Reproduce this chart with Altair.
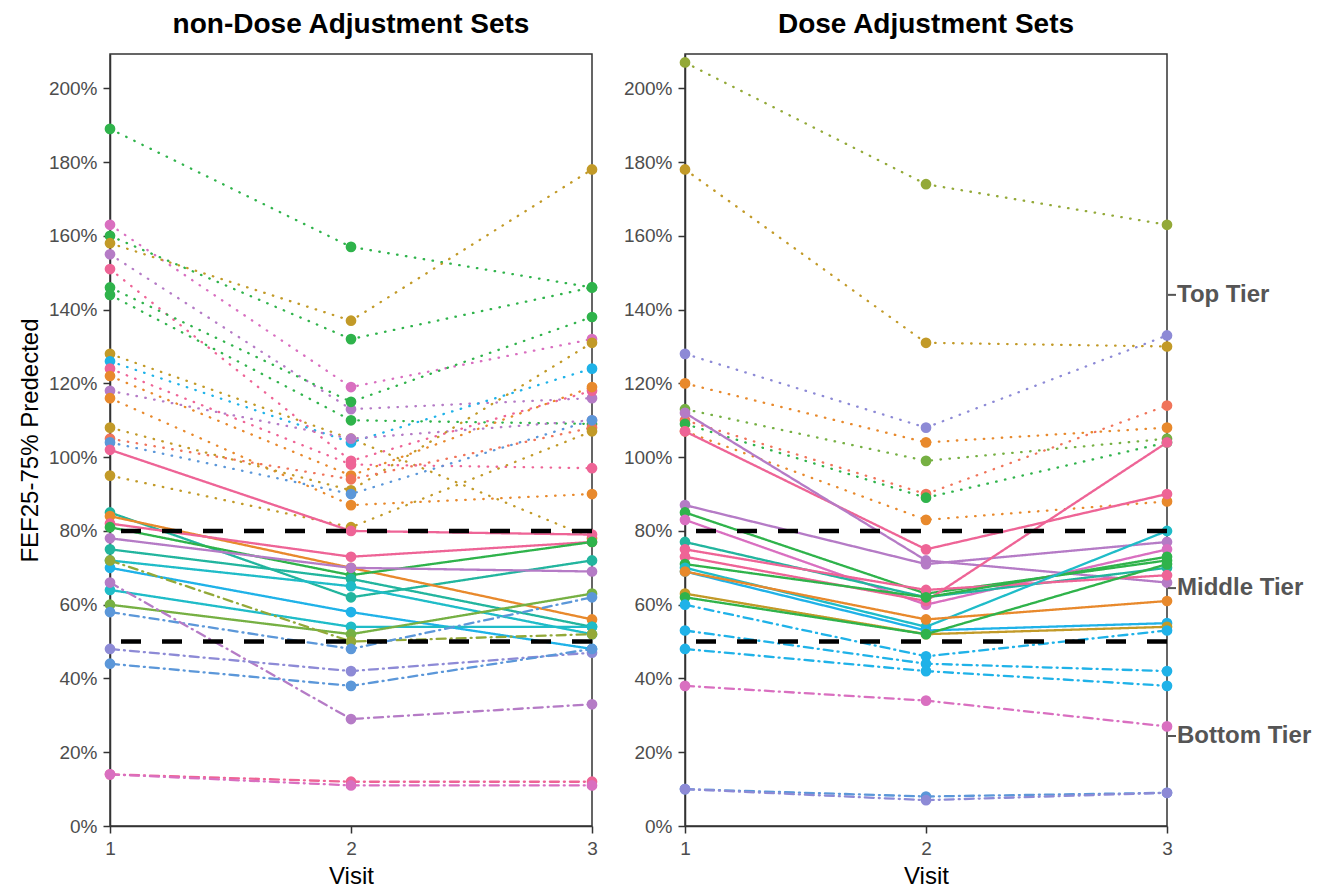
import altair as alt
import pandas as pd

# ---------------- data ----------------
VISITS = [1, 2, 3]
Y_TICKS = [0, 20, 40, 60, 80, 100, 120, 140, 160, 180, 200]
THRESHOLDS = [80, 50]
TIER_POS = [144, 64.5, 24.4]
TIER_NAMES = ["Top Tier", "Middle Tier", "Bottom Tier"]

GREEN = "#2fb34b"; MAGENTA = "#d96fc0"; GOLD = "#c29a28"; PURPLE = "#b57bc6"
PINK = "#ee6496"; OLIVE = "#93a938"; CYAN = "#1fb2e8"; ORANGE = "#e8892c"
SALMON = "#f0745a"; BLUE = "#5b97d9"; TEAL = "#22b59e"; TEAL2 = "#1fbcc8"
YGREEN = "#76b043"; VIOLET = "#8d8ad6"

# non-Dose Adjustment Sets
L_COLOR = [GREEN, MAGENTA, GREEN, GOLD, PURPLE, PINK, GREEN, GREEN, GOLD, CYAN,
           PINK, ORANGE, PURPLE, ORANGE, GOLD, SALMON, BLUE, GOLD,
           PINK, TEAL, ORANGE, PINK, GREEN, PURPLE, TEAL, TEAL2, CYAN, TEAL2, YGREEN,
           OLIVE, BLUE, PURPLE, VIOLET, BLUE, PINK, MAGENTA]
L_TIER = ["Top"] * 18 + ["Middle"] * 11 + ["Bottom"] * 7
L_V1 = [189, 163, 160, 158, 155, 151, 146, 144, 128, 126, 124, 122, 118, 116, 108, 105, 104, 95,
        102, 85, 84, 82, 81, 78, 75, 72, 70, 64, 60,
        72, 58, 66, 48, 44, 14, 14]
L_V2 = [157, 119, 132, 137, 113, 99, 115, 110, 105, 104, 98, 95, 105, 87, 91, 94, 90, 81,
        80, 62, 70, 73, 68, 70, 67, 65, 58, 54, 52,
        50, 48, 29, 42, 38, 12, 11]
L_V3 = [146, 132, 146, 178, 116, 118, 138, 109, 78, 124, 97, 119, 110, 90, 131, 108, 110, 107,
        79, 72, 56, 77, 77, 69, 54, 52, 48, 54, 63,
        52, 62, 33, 47, 48, 12, 11]

# Dose Adjustment Sets
R_COLOR = [OLIVE, GOLD, VIOLET, ORANGE, YGREEN, SALMON, GREEN, ORANGE,
           PINK, PURPLE, PURPLE, GREEN, MAGENTA, TEAL, PINK, PINK, GREEN, TEAL2, CYAN,
           ORANGE, GOLD, GREEN,
           CYAN, CYAN, CYAN, MAGENTA, BLUE, VIOLET]
R_TIER = ["Top"] * 8 + ["Middle"] * 14 + ["Bottom"] * 6
R_V1 = [207, 178, 128, 120, 113, 110, 109, 107,
        107, 112, 87, 85, 83, 77, 75, 73, 71, 70, 69, 69, 63, 62,
        60, 53, 48, 38, 10, 10]
R_V2 = [174, 131, 108, 104, 99, 90, 89, 83,
        75, 72, 71, 63, 60, 62, 64, 61, 62, 54, 53, 56, 52, 52,
        46, 44, 42, 34, 8, 7]
R_V3 = [163, 130, 133, 108, 105, 114, 104, 88,
        90, 66, 77, 72, 75, 70, 68, 104, 73, 80, 55, 61, 54, 71,
        53, 42, 38, 27, 9, 9]


def long_table(prefix, colors, tiers, v1, v2, v3):
    rows = []
    for i, (c, t, a, b, d) in enumerate(zip(colors, tiers, v1, v2, v3)):
        for visit, val in zip(VISITS, (a, b, d)):
            rows.append({"id": f"{prefix}{i:02d}", "color": c, "tier": t,
                         "visit": visit, "value": val})
    return pd.DataFrame(rows)


left_df = long_table("L", L_COLOR, L_TIER, L_V1, L_V2, L_V3)
right_df = long_table("R", R_COLOR, R_TIER, R_V1, R_V2, R_V3)
thr_df = pd.DataFrame({"v": THRESHOLDS})
tier_df = pd.DataFrame({"v": TIER_POS, "name": TIER_NAMES})

FONT = "Liberation Sans"
W, H = 482, 772
yscale = alt.Scale(domain=[0, 209.3], nice=False, zero=False)
xscale = alt.Scale(type="point", domain=VISITS, padding=0)

dash_scale = alt.Scale(domain=["Top", "Middle", "Bottom"],
                       range=[[0.5, 8.5], [1, 0], [9, 5, 1, 5]])


def panel(df, title, show_ytitle, tier_labels):
    xaxis = alt.Axis(title="Visit", grid=False, labelAngle=0, labelOverlap=False)
    yaxis = alt.Axis(values=Y_TICKS, labelExpr="datum.value + '%'", grid=False,
                     labelOverlap=False,
                     title="FEF25-75% Predected" if show_ytitle else "")
    x_enc = alt.X("visit:O", scale=xscale, axis=xaxis)
    base = alt.Chart(df)
    lines = base.mark_line(strokeWidth=2.3, strokeCap="round").encode(
        x=x_enc,
        y=alt.Y("value:Q", scale=yscale, axis=yaxis),
        color=alt.Color("color:N", scale=None, legend=None),
        strokeDash=alt.StrokeDash("tier:N", scale=dash_scale, legend=None),
        detail="id:N",
        order="visit:Q",
    )
    pts = base.mark_circle(size=115, opacity=1).encode(
        x=x_enc,
        y=alt.Y("value:Q", scale=yscale, axis=yaxis),
        color=alt.Color("color:N", scale=None, legend=None),
    )
    rules = alt.Chart(thr_df).mark_rule(color="black", strokeWidth=4.5,
                                        strokeDash=[20, 21], strokeCap="butt").encode(
        y=alt.Y("v:Q", scale=yscale, axis=yaxis)
    )
    layers = [lines, pts, rules]
    if tier_labels:
        ticks = alt.Chart(tier_df).mark_rule(color="#555555", strokeWidth=2).encode(
            x=alt.value(W + 1), x2=alt.value(W + 9),
            y=alt.Y("v:Q", scale=yscale, axis=yaxis),
        )
        texts = alt.Chart(tier_df).mark_text(
            align="left", baseline="middle", font=FONT, fontSize=24,
            fontWeight="bold", color="#555555", dx=0
        ).encode(
            x=alt.value(W + 10),
            y=alt.Y("v:Q", scale=yscale, axis=yaxis),
            text="name:N",
        )
        layers += [ticks, texts]
    return alt.layer(*layers).properties(
        width=W, height=H,
        title=alt.TitleParams(title, fontSize=28, fontWeight="bold", font=FONT,
                              anchor="middle", offset=15, color="black"),
    )


left = panel(left_df, "non-Dose Adjustment Sets", True, False)
right = panel(right_df, "Dose Adjustment Sets", False, True)

chart = alt.hconcat(
    left, right, spacing=23, background="white",
    padding={"left": 9, "top": 2, "right": 5, "bottom": 5},
).configure_view(
    stroke="#333333", strokeWidth=1.5
).configure_axis(
    labelFont=FONT, titleFont=FONT, labelFontSize=19, titleFontSize=24,
    labelColor="#4d4d4d", titleColor="black", titleFontWeight="normal",
    domainColor="#333333", domainWidth=1.5, tickColor="#333333", tickWidth=1.5,
    tickSize=7, labelPadding=6, titlePadding=6,
)

chart.save("out.html", embed_options={"renderer": "svg", "actions": False})
